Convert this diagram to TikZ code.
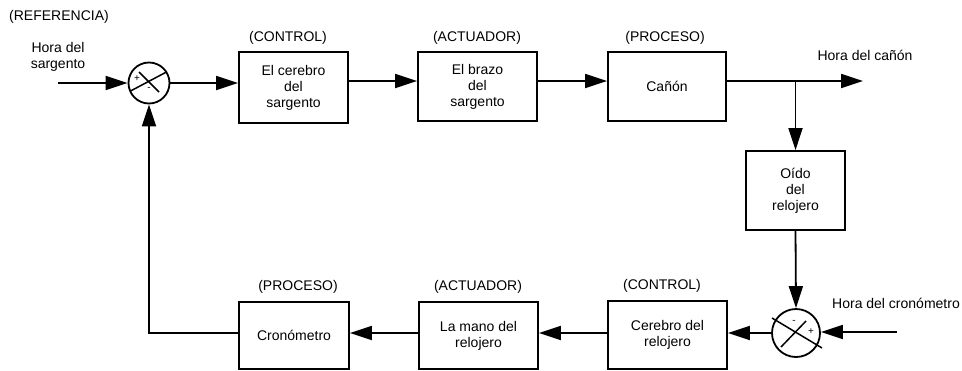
\documentclass[tikz,border=0pt]{standalone}
\usepackage{fontspec}
\setmainfont{Liberation Sans}
\usetikzlibrary{arrows.meta,calc}
\begin{document}
\begin{tikzpicture}[x=0.5pt,y=-0.5pt,
  font=\fontsize{7}{8}\selectfont,
  line width=0.9pt,
  blk/.style={draw,rectangle,inner sep=0pt,align=center},
  sumcirc/.style={draw,circle,inner sep=0pt},
  lbl/.style={inner sep=0pt,align=center},
  sgn/.style={inner sep=0pt,font=\fontsize{5}{5}\selectfont},
  mark line/.style={line width=0.75pt},
  flow/.style={-{Triangle[length=11pt,width=7pt]}}]
\useasboundingbox (0,0) rectangle (962,370);

% labels
\node[lbl] (ref) at (59,17) {(REFERENCIA)};
\node[lbl] (hs) at (58,57) {Hora del\\sargento};
\node[lbl] (tctl) at (288,38) {(CONTROL)};
\node[lbl] (tact) at (477,38) {(ACTUADOR)};
\node[lbl] (tproc) at (665,38) {(PROCESO)};
\node[lbl] (hc) at (865,55) {Hora del cañón};
\node[lbl] (hcr) at (896,303) {Hora del cronómetro};
\node[lbl] (bproc) at (298,287) {(PROCESO)};
\node[lbl] (bact) at (478,287) {(ACTUADOR)};
\node[lbl] (bctl) at (662,286) {(CONTROL)};

% comparators
\node[sumcirc,minimum size=20.5pt] (c1) at (149,83) {};
\node[sumcirc,minimum size=24pt] (c2) at (796,333) {};

% forward path blocks
\node[blk,minimum width=54.5pt,minimum height=35.5pt] (b1) at (293.5,87.5) {El cerebro\\del\\sargento};
\node[blk,minimum width=59.5pt,minimum height=34.5pt] (b2) at (477.5,86.5) {El brazo\\del\\sargento};
\node[blk,minimum width=59pt,minimum height=34.5pt] (b3) at (667,86.5) {Cañón};
\node[blk,minimum width=49.5pt,minimum height=39.5pt] (b4) at (795.5,190.5) {Oído\\del\\relojero};
\node[blk,minimum width=59.5pt,minimum height=34pt] (b5) at (667.5,335) {Cerebro del\\relojero};
\node[blk,minimum width=59.5pt,minimum height=33.5pt] (b6) at (478.5,335.5) {La mano del\\relojero};
\node[blk,minimum width=55pt,minimum height=33.5pt] (b7) at (294,335.5) {Cronómetro};

% free ends
\coordinate (in1) at (58,83);
\coordinate (out) at (863,81);
\coordinate (in2) at (897,332);
\coordinate (br) at (b4.north |- out);

% comparator marks
\draw[mark line] ($(c1)+(17.5,-11)$) -- ($(c1)+(-18.5,8)$);
\draw[mark line] ($(c1)+(-10,-11)$) -- ($(c1)+(10,9)$);
\node[sgn] at ($(c1)+(-12,-4)$) {+};
\node[sgn] at ($(c1)+(0,6)$) {-};
\draw[mark line] ($(c2)+(-24,-15)$) -- ($(c2)+(26,15)$);
\draw[mark line] ($(c2)+(10,-12)$) -- ($(c2)+(-15,14)$);
\node[sgn] at ($(c2)+(-2,-11)$) {-};
\node[sgn] at ($(c2)+(15,-1)$) {+};

% connectors
\draw[flow] (in1) -- (c1.west);
\draw[flow] (c1.east) -- (c1.east -| b1.west);
\draw[flow] (b1.east |- out) -- (b2.west |- out);
\draw[flow] (b2.east |- out) -- (b3.west |- out);
\draw[flow] (b3.east |- out) -- (out);
\draw[flow] (br) -- (b4.north);
\draw[flow] (b4.south) -- (c2.north);
\draw[flow] (in2) -- (c2.east |- in2);
\draw[flow] (c2.west) -- (c2.west -| b5.east);
\draw[flow] (b5.west |- c2) -- (b6.east |- c2);
\draw[flow] (b6.west |- c2) -- (b7.east |- c2);
\draw[flow] (b7.west |- c2) -| (c1.south);
\end{tikzpicture}
\end{document}
